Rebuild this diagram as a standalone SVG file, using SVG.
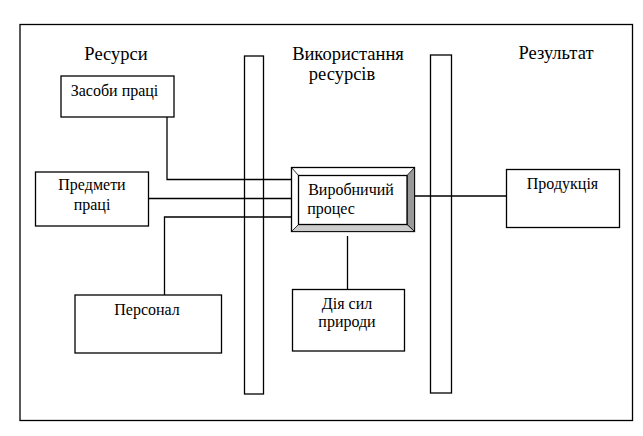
<svg xmlns="http://www.w3.org/2000/svg" width="643" height="436" viewBox="0 0 643 436">
<style>
.box{fill:#fff;stroke:#000;stroke-width:1.3}
.bar{fill:#fff;stroke:#000;stroke-width:1.3}
.ln{fill:none;stroke:#000;stroke-width:1.3}
.t{font-family:"Liberation Serif","DejaVu Serif",serif;font-size:16px;fill:#000;text-anchor:middle}
.h{font-family:"Liberation Serif","DejaVu Serif",serif;font-size:18.5px;fill:#000;text-anchor:middle}
</style>
<rect x="0" y="0" width="643" height="436" fill="#fff"/>
<rect id="frame" x="20" y="24.5" width="612.5" height="396" fill="#fff" stroke="#000" stroke-width="1.3"/>
<g id="headings">
<text class="h" x="116" y="60">Ресурси</text>
<text class="h" x="348" y="60">Використання</text>
<text class="h" x="342" y="80">ресурсів</text>
<text class="h" x="556" y="59">Результат</text>
</g>
<g id="bar-left"><rect class="bar" x="244.5" y="56" width="19" height="338"/></g>
<g id="bar-right"><rect class="bar" x="430.5" y="55" width="21" height="338"/></g>
<g id="connectors">
<polyline class="ln" points="167,117 167,179.5 291,179.5"/>
<line class="ln" x1="148" y1="198.5" x2="291" y2="198.5"/>
<polyline class="ln" points="164.5,295 164.5,217 291,217"/>
<line class="ln" x1="347.5" y1="236" x2="347.5" y2="289.5"/>
<line class="ln" x1="407" y1="196" x2="506.5" y2="196"/>
</g>
<g id="zasoby">
<rect class="box" x="61" y="76" width="113" height="41"/>
<text class="t" x="114.5" y="96">Засоби праці</text>
</g>
<g id="predmety">
<rect class="box" x="35.5" y="172" width="113" height="54"/>
<text class="t" x="92" y="190">Предмети</text>
<text class="t" x="92" y="210">праці</text>
</g>
<g id="personal">
<rect class="box" x="75" y="295" width="146.5" height="58"/>
<text class="t" x="147" y="315">Персонал</text>
</g>
<g id="process">
<rect x="291.5" y="167.5" width="123" height="64" fill="#fff" stroke="#000" stroke-width="1.3"/>
<polygon points="407,175.5 414.5,167.5 414.5,231.5 407,224.5" fill="#999" stroke="#000" stroke-width="0.8"/>
<polygon points="298.5,224.5 407,224.5 414.5,231.5 291.5,231.5" fill="#ccc" stroke="#000" stroke-width="0.8"/>
<line x1="291.5" y1="167.5" x2="298.5" y2="175.5" stroke="#000" stroke-width="0.8"/>
<rect x="298.5" y="175.5" width="108.5" height="49" fill="#fff" stroke="#000" stroke-width="1.3"/>
<text class="t" x="351" y="195">Виробничий</text>
<text class="t" x="331" y="213.5">процес</text>
</g>
<g id="diya">
<rect class="box" x="292.5" y="289.5" width="112" height="61.5"/>
<text class="t" x="347" y="308.5">Дія сил</text>
<text class="t" x="347" y="327">природи</text>
</g>
<g id="produktsiya">
<rect class="box" x="506.5" y="169.5" width="113" height="58"/>
<text class="t" x="562.5" y="188.5">Продукція</text>
</g>
</svg>
